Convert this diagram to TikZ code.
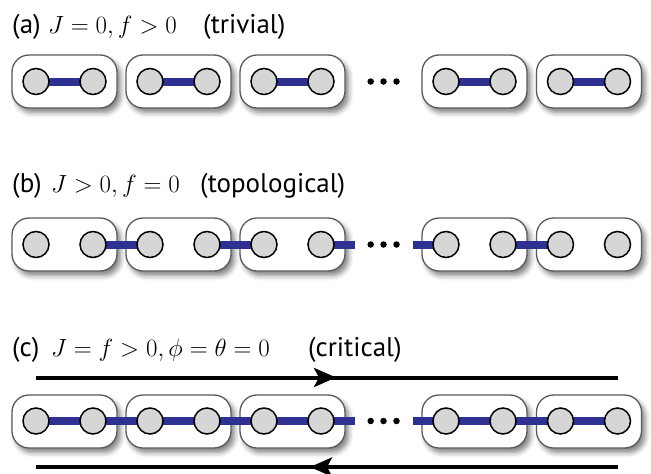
\documentclass[tikz,border=0pt]{standalone}
\usepackage{fontspec}
\setsansfont{PT Sans}
\usetikzlibrary{arrows.meta,shadows.blur}
\definecolor{bondblue}{RGB}{46,49,146}
\definecolor{sitefill}{RGB}{214,214,214}
\definecolor{boxline}{RGB}{90,90,90}
\pgfdeclarelayer{boxlayer}
\pgfdeclarelayer{bondlayer}
\pgfsetlayers{boxlayer,bondlayer,main}
\tikzset{
  cell/.style={draw=boxline, line width=1.3pt, rounded corners=17pt,
    minimum width=105pt, minimum height=53pt, fill=white,
    blur shadow={shadow xshift=3.5pt, shadow yshift=-4.5pt, shadow blur radius=5pt, shadow opacity=50}},
  site/.style={circle, draw=black, line width=1.5pt, fill=sitefill, minimum size=26pt, inner sep=0pt},
  bond/.style={bondblue, line width=8pt},
  dotnode/.style={circle, fill=black, minimum size=6.5pt, inner sep=0pt},
  flow/.style={line width=4pt},
  lbl/.style={anchor=base west, inner sep=0pt, font=\fontsize{27}{32}\selectfont\sffamily},
  mathlbl/.style={anchor=base west, inner sep=0pt, font=\fontsize{24.88}{30}\selectfont},
}
\begin{document}
\begin{tikzpicture}[x=1pt,y=-1pt]
\useasboundingbox (0,0) rectangle (651,474);
% labels
\node[lbl] (la) at (12,33) {(a)};
\node[mathlbl] (ma) at (48,33) {$J=0, f>0$};
\node[lbl] (da) at (203,33) {(trivial)};
\node[lbl] (lb) at (12,192) {(b)};
\node[mathlbl] (mb) at (51,192) {$J>0, f=0$};
\node[lbl] (db) at (200,192) {(topological)};
\node[lbl] (lc) at (12,356) {(c)};
\node[mathlbl] (mc) at (51,356) {$J=f>0, \phi=\theta=0$};
\node[lbl] (dc) at (308,356) {(critical)};
% boxes
\begin{pgfonlayer}{boxlayer}
\foreach \r/\y in {a/81.5, b/244.5, c/421.5} {
  \foreach \i/\x in {1/64.5, 2/178.5, 3/292.5, 4/474.5, 5/589} {
    \node[cell] (\r box\i) at (\x,\y) {};
  }
}
\end{pgfonlayer}
% sites
\foreach \r/\y in {a/81.5, b/244.5, c/421} {
  \foreach \i/\x in {1/64.5, 2/178.5, 3/292.5, 4/474.5, 5/589} {
    \node[site] (\r L\i) at (\x-28.5,\y) {};
    \node[site] (\r R\i) at (\x+28.5,\y) {};
  }
  \node[dotnode] (\r d1) at (370.7,\y) {};
  \node[dotnode] (\r d2) at (383.5,\y) {};
  \node[dotnode] (\r d3) at (396.5,\y) {};
  \coordinate (\r s1) at (355,\y);
  \coordinate (\r s2) at (413,\y);
}
% bonds
\begin{pgfonlayer}{bondlayer}
\foreach \i in {1,...,5} {
  \draw[bond] (aL\i.center) -- (aR\i.center);
  \draw[bond] (cL\i.center) -- (cR\i.center);
}
\foreach \r in {b,c} {
  \draw[bond] (\r R1.center) -- (\r L2.center);
  \draw[bond] (\r R2.center) -- (\r L3.center);
  \draw[bond] (\r R3.center) -- (\r s1);
  \draw[bond] (\r s2) -- (\r L4.center);
  \draw[bond] (\r R4.center) -- (\r L5.center);
}
\end{pgfonlayer}
% edge currents
\coordinate (tl) at (36,377.5);
\coordinate (tm) at (336,377.5);
\coordinate (tr) at (617.5,377.5);
\coordinate (bl) at (36,467);
\coordinate (bm) at (310,467);
\coordinate (br) at (617.5,467);
\draw[flow] (tl) -- (tr);
\draw[flow,-{Stealth[length=22pt,width=19pt,inset=5pt]}] (tl) -- (tm);
\draw[flow] (bl) -- (br);
\draw[flow,-{Stealth[length=22pt,width=19pt,inset=5pt]}] (br) -- (bm);
\end{tikzpicture}
\end{document}
